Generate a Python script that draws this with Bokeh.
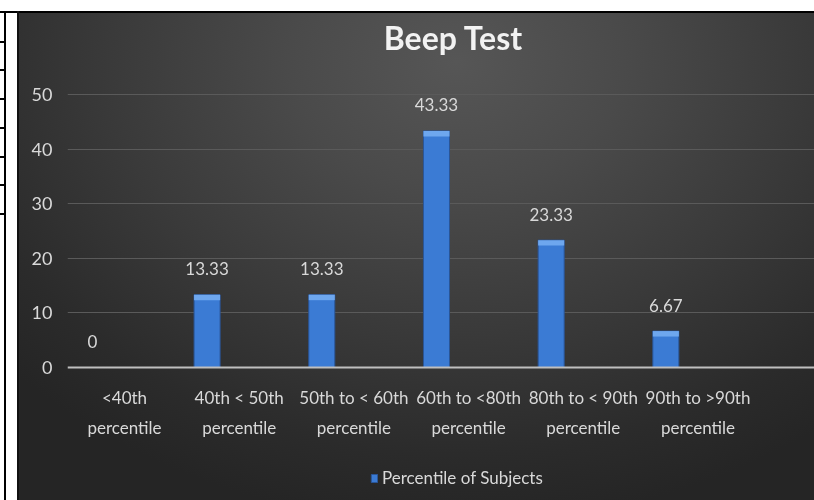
from bokeh.plotting import figure
from bokeh.models import (ColumnDataSource, FixedTicker, Legend, LegendItem, Div, Label, Span)
from bokeh.transform import dodge
from bokeh.embed import file_html
from bokeh.resources import INLINE

# ---- data ----
title_text = "Beep Test"
cat_line1 = ["<40th", "40th < 50th", "50th to < 60th", "60th to <80th", "80th to < 90th", "90th to >90th"]
cat_line2 = ["percentile", "percentile", "percentile", "percentile", "percentile", "percentile"]
values = [0, 13.33, 13.33, 43.33, 23.33, 6.67]
series_name = "Percentile of Subjects"
y_ticks = [0, 10, 20, 30, 40, 50]

FONT = "Lato"
TXT = "#d9d9d9"

idx = list(range(len(values)))
src = ColumnDataSource(dict(
    idx=idx,
    val=values,
    bevel=[max(v - 1.0, 0) for v in values],
    lab=[f"{v:g}" for v in values],
))
cats = ColumnDataSource(dict(idx=idx, zero=[0] * len(idx), l1=cat_line1, l2=cat_line2))

# plot area spans the whole height; value axis 0..50 sits inside it
p = figure(width=795, height=487, output_backend="svg", toolbar_location=None,
           x_range=(-0.497, 6.016), y_range=(-24.36, 64.84),
           min_border_left=48, min_border_right=0, min_border_top=0, min_border_bottom=0)
p.background_fill_alpha = 0
p.border_fill_alpha = 0
p.outline_line_color = None
p.styles = {
    "position": "fixed", "left": "19px", "top": "13px",
    "background": "radial-gradient(ellipse 75% 95% at 55% 10%, #565656 0%, #4a4a4a 28%, #3a3a3a 58%, #2b2b2b 85%, #252525 100%)",
}

# grid
p.xgrid.grid_line_color = None
p.ygrid.grid_line_color = "#5a5a5a"
p.ygrid.grid_line_width = 1
p.ygrid.ticker = FixedTicker(ticks=y_ticks[1:])

# y axis
yax = p.yaxis[0]
yax.ticker = FixedTicker(ticks=y_ticks)
yax.axis_line_color = None
yax.major_tick_line_color = None
yax.minor_tick_line_color = None
yax.major_label_text_font = FONT
yax.major_label_text_font_size = "18px"
yax.major_label_text_color = TXT
yax.major_label_standoff = 9

# category axis drawn at value 0
p.xaxis.visible = False
p.add_layout(Span(location=0, dimension="width", line_color="#bfbfbf", line_width=2))
for col, off in (("l1", 30), ("l2", 60)):
    p.text(x="idx", y="zero", text=col, source=cats, y_offset=off,
           text_align="center", text_baseline="middle",
           text_font={"value": FONT}, text_font_size={"value": "17px"}, text_color=TXT)

# bars
xpos = dodge("idx", -0.28, range=p.x_range)
bars = p.vbar(x=xpos, top="val", width=0.227, source=src,
              fill_color="#3b7bd4", line_color="#2a5597", line_width=1)
p.vbar(x=xpos, top="val", bottom="bevel", width=0.227, source=src,
       fill_color="#6ea7ee", line_color=None)

# data labels
p.text(x=xpos, y="val", text="lab", source=src, y_offset=-26,
       text_align="center", text_baseline="middle",
       text_font={"value": FONT}, text_font_size={"value": "17px"}, text_color=TXT)

# title
p.add_layout(Label(x=2.868, y=60.44, text=title_text, text_align="center",
                   text_baseline="middle", text_font=FONT, text_font_size="32px",
                   text_font_style="bold", text_color="#f2f2f2"))

# legend
leg = Legend(items=[LegendItem(label=series_name, renderers=[bars])],
             location=(303, 12), orientation="horizontal",
             background_fill_alpha=0, border_line_color=None,
             label_text_font=FONT, label_text_font_size="17px", label_text_color=TXT,
             glyph_width=8, glyph_height=10, label_height=16, label_standoff=4,
             padding=0, margin=0)
p.add_layout(leg, "center")

# left strip of table lines (document context)
lines = ['<div style="position:fixed;left:0;top:11px;width:814px;height:2px;background:#000"></div>',
         '<div style="position:fixed;left:4px;top:11px;width:2px;height:489px;background:#000"></div>',
         '<div style="position:fixed;left:17px;top:11px;width:2px;height:489px;background:#111"></div>']
for yy in [41, 69, 98, 127, 156, 184, 213]:
    lines.append(f'<div style="position:fixed;left:0;top:{yy}px;width:5px;height:2px;background:#000"></div>')
left = Div(text="".join(lines), width=1, height=1)

open("out.html", "w").write(file_html([left, p], INLINE))
